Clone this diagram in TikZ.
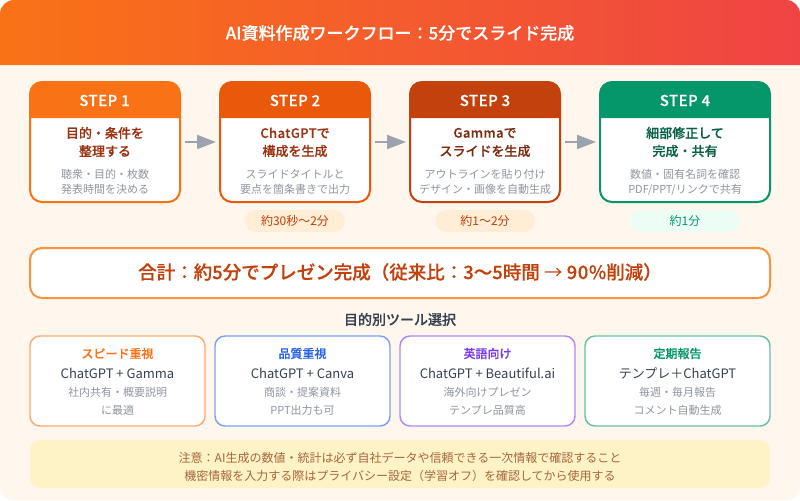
\documentclass[tikz,border=0pt]{standalone}
\usepackage{fontspec}
\setmainfont{Noto Sans CJK JP}[BoldFont={* Medium},BoldFeatures={FakeBold=0.3}]
\usetikzlibrary{arrows.meta}
\definecolor{canvasbg}{HTML}{FFF7ED}
\definecolor{hdA}{HTML}{F97316}
\definecolor{hdB}{HTML}{EF4444}
\definecolor{stA}{HTML}{F97316}
\definecolor{stB}{HTML}{EA580C}
\definecolor{stC}{HTML}{C2410C}
\definecolor{stD}{HTML}{059669}
\definecolor{ttA}{HTML}{9A3412}
\definecolor{ttC}{HTML}{7C2D12}
\definecolor{ttD}{HTML}{065F46}
\definecolor{graytx}{HTML}{6B7280}
\definecolor{darktx}{HTML}{374151}
\definecolor{arrowc}{HTML}{9CA3AF}
\definecolor{pillO}{HTML}{FFEDD5}
\definecolor{pillG}{HTML}{ECFDF5}
\definecolor{totB}{HTML}{FB923C}
\definecolor{cardB}{HTML}{2563EB}
\definecolor{cardV}{HTML}{7C3AED}
\definecolor{noteF}{HTML}{FEF3C7}
\definecolor{noteT}{HTML}{92400E}
\newcommand{\fs}[1]{\fontsize{\dimexpr #1pt*3/4\relax}{\dimexpr #1pt\relax}\selectfont}
\newcommand{\wide}[1]{{\addfontfeature{LetterSpace=3}#1}}
\tikzset{
  x=0.75pt,y=-0.75pt,
  stepbox/.style={draw=#1,line width=1.5pt,fill=white,rounded corners=9pt,inner sep=0pt,outer sep=0pt,anchor=north west},
  tx/.style={inner sep=0pt,anchor=center,align=center},
  steplabel/.style={tx,text=white,font=\fs{15}\bfseries},
  steptitle/.style={tx,font=\fs{13}\bfseries},
  stepdesc/.style={tx,text=graytx!75!white,font=\fs{11}},
  pillbox/.style={rounded corners=8.25pt,inner sep=0pt,outer sep=0pt,anchor=north west,minimum height=16.5pt},
  flow/.style={draw=arrowc,line width=1.5pt,-{Triangle[length=14.25pt,width=10.5pt]},shorten >=3pt,shorten <=3.75pt},
  toolcard/.style={draw=#1!60!white,line width=1.1pt,fill=white,rounded corners=7.5pt,inner sep=0pt,outer sep=0pt,anchor=north west,minimum height=67.5pt},
  cardhead/.style={tx,font=\fs{12}\bfseries},
  cardtool/.style={tx,text=darktx,font=\fs{13}},
  carddesc/.style={tx,text=graytx!75!white,font=\fs{11}},
  notetx/.style={tx,text=noteT!80!white,font=\fs{12}},
}
\begin{document}
\begin{tikzpicture}
\useasboundingbox (0,0) rectangle (800,500);
\fill[white] (0,0) rectangle (800,500);
\fill[canvasbg,rounded corners=10.5pt] (0,0) rectangle (800,500);
\shade[left color=hdA,right color=hdB] (0,65) [rounded corners=10.5pt]-- (0,0) -- (800,0) [sharp corners]-- (800,65) -- cycle;
\node[tx,text=white,font=\fs{17}\bfseries] (title) at (400,33) {AI資料作成ワークフロー：5分でスライド完成};

% steps
\node[stepbox=stA,minimum width=112.5pt,minimum height=90pt] (s1) at (30,82) {};
\node[stepbox=stB,minimum width=112.5pt,minimum height=90pt] (s2) at (220,82) {};
\node[stepbox=stC,minimum width=112.5pt,minimum height=90pt] (s3) at (410,82) {};
\node[stepbox=stD,minimum width=127.5pt,minimum height=90pt] (s4) at (600,82) {};
\fill[stA] (30,118) [rounded corners=9pt]-- (30,82) -- (180,82) [sharp corners]-- (180,118) -- cycle;
\fill[stB] (220,118) [rounded corners=9pt]-- (220,82) -- (370,82) [sharp corners]-- (370,118) -- cycle;
\fill[stC] (410,118) [rounded corners=9pt]-- (410,82) -- (560,82) [sharp corners]-- (560,118) -- cycle;
\fill[stD] (600,118) [rounded corners=9pt]-- (600,82) -- (770,82) [sharp corners]-- (770,118) -- cycle;
\node[steplabel] (l1) at (104.5,100.5) {\wide{STEP 1}};
\node[steplabel] (l2) at (295,100.5) {\wide{STEP 2}};
\node[steplabel] (l3) at (485,100.5) {\wide{STEP 3}};
\node[steplabel] (l4) at (685,100.5) {\wide{STEP 4}};

\node[steptitle,text=ttA] (t1a) at (105,133) {目的・条件を};
\node[steptitle,text=ttA] (t1b) at (105,151) {整理する};
\node[steptitle,text=ttA] (t2a) at (295,133) {\wide{ChatGPT}で};
\node[steptitle,text=ttA] (t2b) at (295,151) {構成を生成};
\node[steptitle,text=ttC] (t3a) at (485,133) {\wide{Gamma}で};
\node[steptitle,text=ttC] (t3b) at (485,151) {スライドを生成};
\node[steptitle,text=ttD] (t4a) at (685,133) {細部修正して};
\node[steptitle,text=ttD] (t4b) at (685,151) {完成・共有};

\node[stepdesc] (d1a) at (105,174) {聴衆・目的・枚数};
\node[stepdesc] (d1b) at (105,189.5) {発表時間を決める};
\node[stepdesc] (d2a) at (295,174) {スライドタイトルと};
\node[stepdesc] (d2b) at (295,189.5) {要点を箇条書きで出力};
\node[stepdesc] (d3a) at (485,174) {アウトラインを貼り付け};
\node[stepdesc] (d3b) at (485,189.5) {デザイン・画像を自動生成};
\node[stepdesc] (d4a) at (685,174) {数値・固有名詞を確認};
\node[stepdesc] (d4b) at (685,189.5) {PDF/PPT/リンクで共有};

\draw[flow] (s1) -- (s2);
\draw[flow] (s2) -- (s3);
\draw[flow] (s3) -- (s4);

% pills
\node[pillbox,fill=pillO,minimum width=75pt] (p2) at (245,210) {};
\node[pillbox,fill=pillO,minimum width=75pt] (p3) at (435,210) {};
\node[pillbox,fill=pillG,minimum width=82.5pt] (p4) at (630,210) {};
\node[tx,text=stC,font=\fs{12}] (pt2) at (p2.center) {約30秒〜2分};
\node[tx,text=stC,font=\fs{12}] (pt3) at (p3.center) {約1〜2分};
\node[tx,text=stD,font=\fs{12}] (pt4) at (p4.center) {約1分};

% total
\node[draw=totB,line width=1.5pt,fill=white,rounded corners=9pt,inner sep=0pt,outer sep=0pt,anchor=north west,minimum width=555pt,minimum height=37.5pt] (total) at (30,248) {};
\node[tx,text=stC,font=\fs{18.5}\bfseries] (totalt) at (400,272) {合計：約5分でプレゼン完成（従来比：\wide{3}〜\wide{5}時間 {\mdseries→} \wide{90\%}削減）};

\node[tx,text=darktx,font=\fs{14}\bfseries] (toolhead) at (400,319.5) {目的別ツール選択};

% cards
\node[toolcard=stA,minimum width=131.25pt] (c1) at (30,336) {};
\node[toolcard=cardB,minimum width=131.25pt] (c2) at (215,336) {};
\node[toolcard=cardV,minimum width=131.25pt] (c3) at (400,336) {};
\node[toolcard=stD,minimum width=138.75pt] (c4) at (585,336) {};
\node[cardhead,text=stA] (ch1) at (117.5,353.5) {スピード重視};
\node[cardhead,text=cardB] (ch2) at (302.5,353.5) {品質重視};
\node[cardhead,text=cardV] (ch3) at (487.5,353.5) {英語向け};
\node[cardhead,text=stD] (ch4) at (677.5,353.5) {定期報告};
\node[cardtool] (ct1) at (117.5,373.5) {ChatGPT + Gamma};
\node[cardtool] (ct2) at (302.5,373.5) {ChatGPT + Canva};
\node[cardtool] (ct3) at (487.5,373.5) {ChatGPT + Beautiful.ai};
\node[cardtool] (ct4) at (677.5,373.5) {テンプレ＋ChatGPT};
\node[carddesc] (cd1a) at (117.5,392) {社内共有・概要説明};
\node[carddesc] (cd1b) at (117.5,410) {に最適};
\node[carddesc] (cd2a) at (302.5,392) {商談・提案資料};
\node[carddesc] (cd2b) at (302.5,410) {PPT出力も可};
\node[carddesc] (cd3a) at (487.5,392) {海外向けプレゼン};
\node[carddesc] (cd3b) at (487.5,410) {テンプレ品質高};
\node[carddesc] (cd4a) at (677.5,392) {毎週・毎月報告};
\node[carddesc] (cd4b) at (677.5,410) {コメント自動生成};

% note
\node[fill=noteF,rounded corners=7.5pt,inner sep=0pt,outer sep=0pt,anchor=north west,minimum width=555pt,minimum height=36pt] (note) at (30,440) {};
\node[notetx] (n1) at (400,458) {注意：AI生成の数値・統計は必ず自社データや信頼できる一次情報で確認すること};
\node[notetx] (n2) at (400,476) {機密情報を入力する際はプライバシー設定（学習オフ）を確認してから使用する};
\end{tikzpicture}
\end{document}
